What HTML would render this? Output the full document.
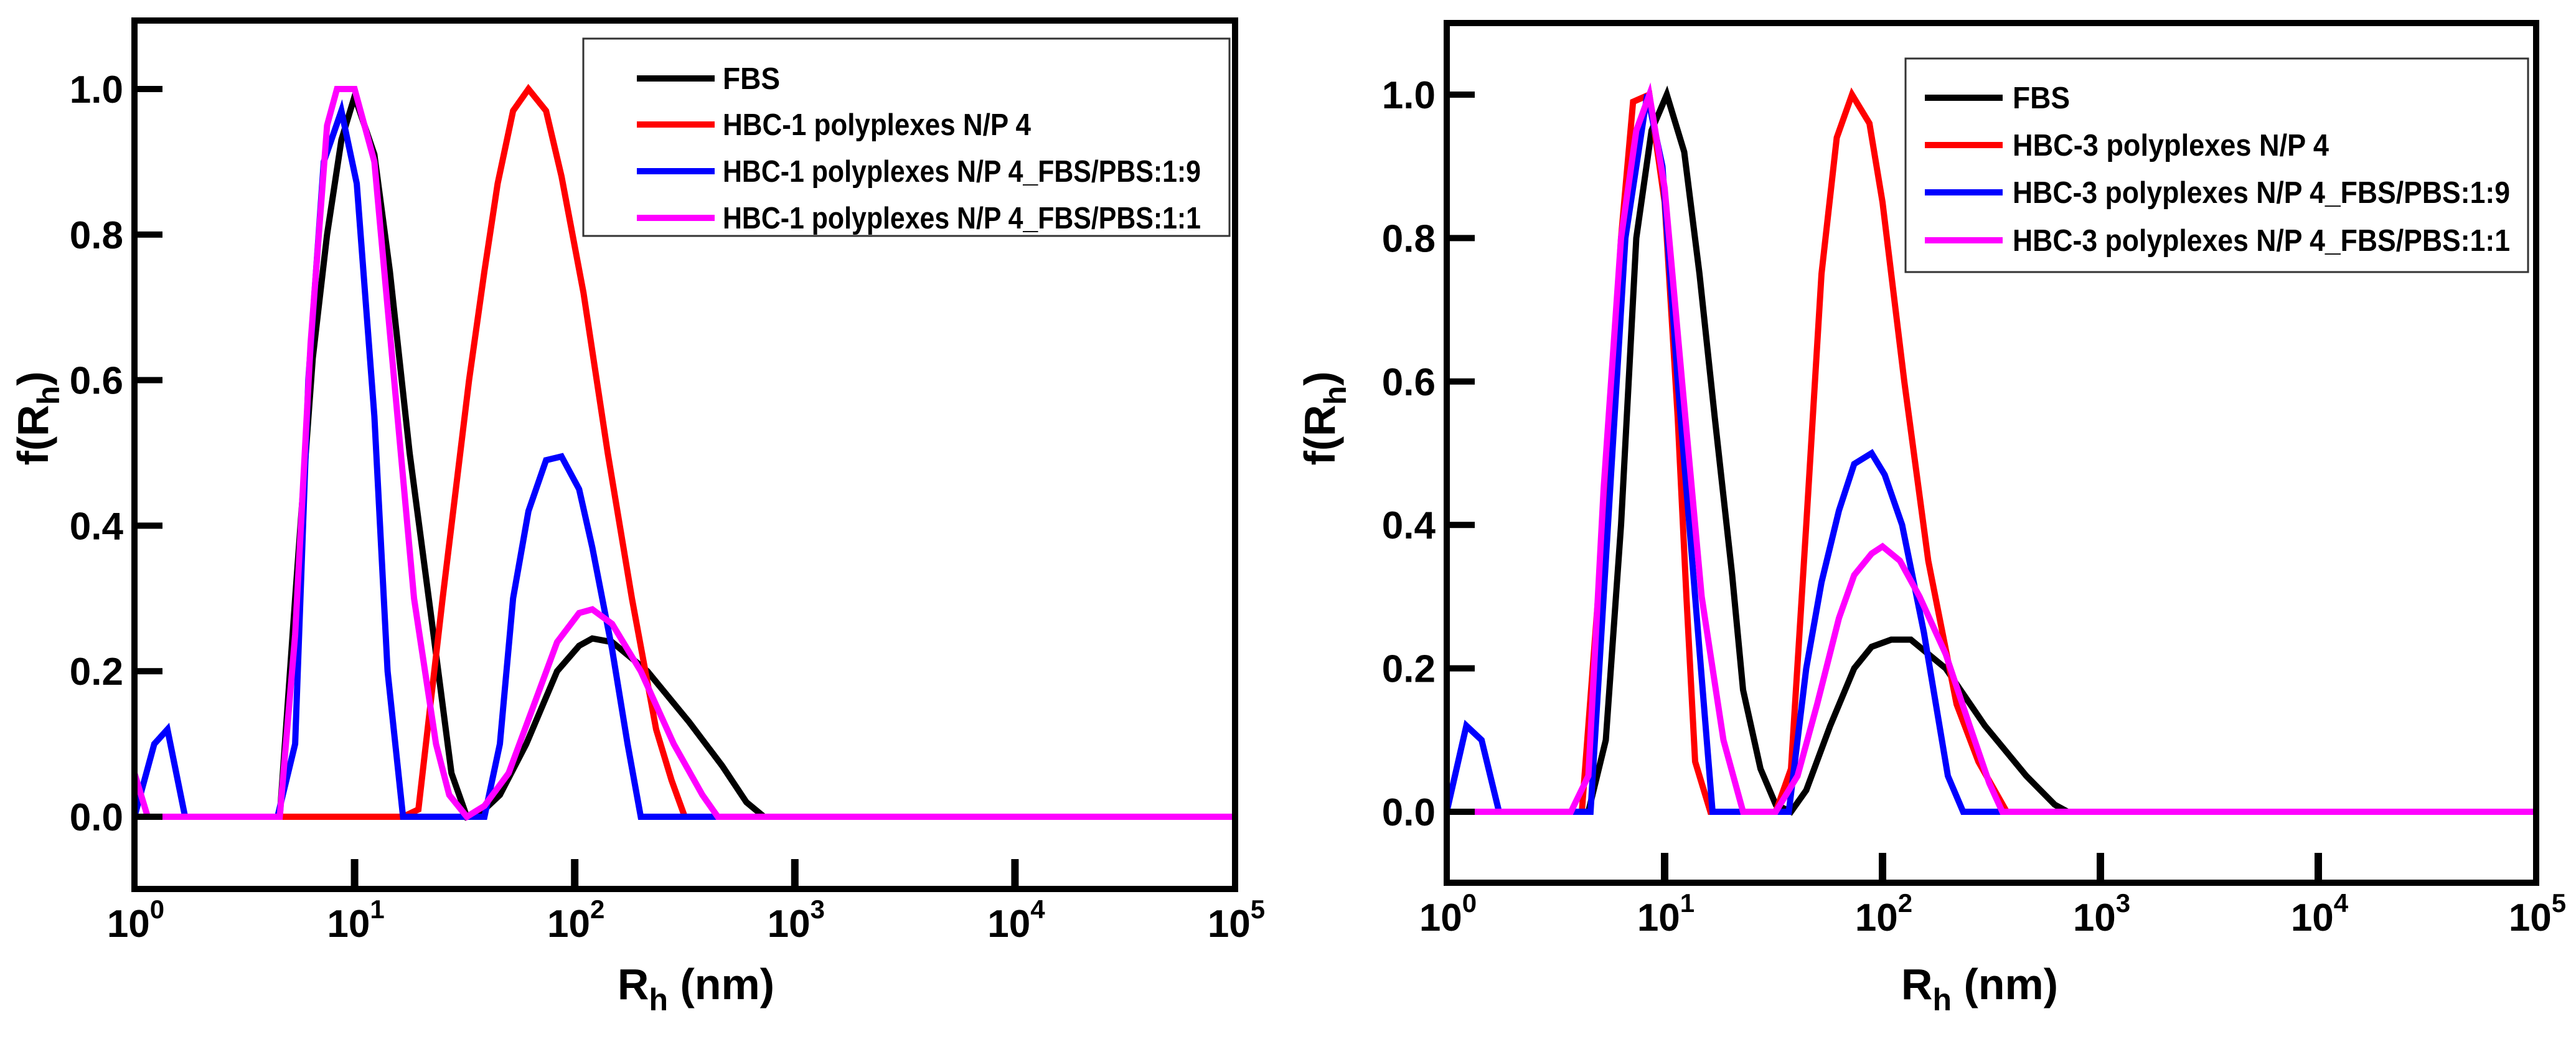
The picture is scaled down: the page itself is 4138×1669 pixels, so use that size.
<!DOCTYPE html>
<html><head><meta charset="utf-8"><style>
html,body{margin:0;padding:0;background:#fff;}
svg{display:block;font-family:"Liberation Sans",Arial,sans-serif;font-weight:bold;}
</style></head><body>
<svg id="fig" width="4138" height="1669" viewBox="0 0 4138 1669"></svg>
<script>
const yTicks = [0, 0.2, 0.4, 0.6, 0.8, 1.0];
const yTickLabels = ["0.0", "0.2", "0.4", "0.6", "0.8", "1.0"];
const xDecades = [0, 1, 2, 3, 4, 5];
const seriesNames1 = ["FBS", "HBC-1 polyplexes N/P 4", "HBC-1 polyplexes N/P 4_FBS/PBS:1:9", "HBC-1 polyplexes N/P 4_FBS/PBS:1:1"];
const seriesNames2 = ["FBS", "HBC-3 polyplexes N/P 4", "HBC-3 polyplexes N/P 4_FBS/PBS:1:9", "HBC-3 polyplexes N/P 4_FBS/PBS:1:1"];
const colors = ["#000000", "#ff0000", "#0000ff", "#ff00ff"];

// panel 1 (log10 Rh, f)
const p1FbsX = [0,0.66,0.73,0.81,0.875,0.94,1.0,1.09,1.16,1.25,1.35,1.44,1.51,1.59,1.66,1.78,1.92,2.02,2.08,2.17,2.33,2.52,2.67,2.78,2.86,5];
const p1FbsY = [0,0,0.3,0.63,0.8,0.93,0.99,0.91,0.75,0.5,0.27,0.06,0,0.01,0.03,0.1,0.2,0.235,0.245,0.24,0.2,0.13,0.07,0.02,0,0];
const p1RedX = [0,1.22,1.29,1.40,1.52,1.59,1.65,1.72,1.79,1.87,1.94,2.04,2.15,2.26,2.37,2.44,2.50,5];
const p1RedY = [0,0,0.01,0.3,0.6,0.75,0.87,0.97,1.0,0.97,0.88,0.72,0.5,0.3,0.12,0.05,0,0];
const p1BlueX = [0,0.09,0.15,0.23,0.65,0.73,0.79,0.86,0.94,1.01,1.09,1.15,1.22,1.59,1.66,1.72,1.79,1.87,1.94,2.02,2.08,2.17,2.24,2.30,5];
const p1BlueY = [0,0.1,0.12,0,0,0.1,0.6,0.9,0.97,0.87,0.55,0.2,0,0,0.1,0.3,0.42,0.49,0.495,0.45,0.37,0.23,0.1,0,0];
const p1MagX = [0,0.06,0.66,0.73,0.80,0.875,0.92,1.0,1.09,1.18,1.27,1.37,1.43,1.51,1.59,1.70,1.81,1.92,2.02,2.08,2.17,2.30,2.45,2.58,2.65,5];
const p1MagY = [0.06,0,0,0.25,0.65,0.95,1.0,1.0,0.9,0.6,0.3,0.1,0.03,0,0.015,0.06,0.15,0.24,0.28,0.285,0.265,0.2,0.1,0.03,0,0];

// panel 2
const p2FbsX = [0,0.65,0.73,0.80,0.87,0.94,1.01,1.09,1.16,1.23,1.31,1.36,1.44,1.51,1.58,1.65,1.76,1.87,1.95,2.04,2.13,2.29,2.47,2.66,2.79,2.85,5];
const p2FbsY = [0,0,0.1,0.4,0.8,0.95,1.0,0.92,0.75,0.55,0.33,0.17,0.06,0.01,0,0.03,0.12,0.2,0.23,0.24,0.24,0.2,0.12,0.05,0.01,0,0];
const p2RedX = [0,0.62,0.72,0.80,0.855,0.93,1.0,1.06,1.10,1.14,1.21,1.51,1.58,1.65,1.72,1.79,1.86,1.94,2.0,2.10,2.21,2.34,2.44,2.57,5];
const p2RedY = [0,0,0.4,0.8,0.99,1.0,0.85,0.55,0.3,0.07,0,0,0.06,0.4,0.75,0.94,1.0,0.96,0.85,0.6,0.35,0.15,0.07,0,0];
const p2BlueX = [0,0.09,0.16,0.24,0.66,0.74,0.82,0.92,0.99,1.06,1.14,1.22,1.57,1.65,1.72,1.80,1.87,1.95,2.01,2.09,2.19,2.30,2.37,5];
const p2BlueY = [0,0.12,0.1,0,0,0.4,0.8,1.0,0.9,0.6,0.3,0,0,0.2,0.32,0.42,0.485,0.5,0.47,0.4,0.25,0.05,0,0];
const p2MagX = [0,0.57,0.65,0.72,0.80,0.87,0.93,1.0,1.08,1.17,1.27,1.36,1.51,1.61,1.70,1.80,1.87,1.95,2.0,2.08,2.17,2.29,2.40,2.49,2.55,5];
const p2MagY = [0,0,0.05,0.45,0.8,0.95,1.0,0.87,0.6,0.3,0.1,0,0,0.05,0.15,0.27,0.33,0.36,0.37,0.35,0.3,0.22,0.12,0.04,0,0];

const NS = "http://www.w3.org/2000/svg";
const svg = document.getElementById("fig");
function mk(tag, attrs, parent) {
  const e = document.createElementNS(NS, tag);
  for (const k in attrs) e.setAttribute(k, attrs[k]);
  (parent || svg).appendChild(e);
  return e;
}

const panels = [
  {L:216,R:1984,T:33,B:1428,y0:1312,y1:143, names:seriesNames1,
   xs:[p1FbsX,p1RedX,p1BlueX,p1MagX], ys:[p1FbsY,p1RedY,p1BlueY,p1MagY],
   leg:{x:937,y:62,w:1038,h:317,lx1:1023,lx2:1148,tx:1161,rows:[126,200,275,350],tw:768},
   ytx:55, xtc:1118, id:"left"},
  {L:2324,R:4074,T:37,B:1418,y0:1304,y1:152, names:seriesNames2,
   xs:[p2FbsX,p2RedX,p2BlueX,p2MagX], ys:[p2FbsY,p2RedY,p2BlueY,p2MagY],
   leg:{x:3061,y:94,w:1000,h:343,lx1:3092,lx2:3217,tx:3233,rows:[157,233,309,386],tw:799},
   ytx:2122, xtc:3180, id:"right"}
];

panels.forEach((p, pi) => {
  const g = mk("g", {});
  
  
  const xS = v => p.L + (v / 5) * (p.R - p.L);
  const yS = v => p.y0 - v * (p.y0 - p.y1);

  const sg = mk("g", {}, g);
  
  
  const cp = mk("clipPath", {id: "clip" + pi}, g);
  mk("rect", {x:p.L, y:p.T, width:p.R-p.L, height:p.B-p.T}, cp);
  sg.setAttribute("clip-path", "url(#clip" + pi + ")");
  for (let s = 0; s < 4; s++) {
    const pts = p.xs[s].map((x, i) => xS(x).toFixed(1) + "," + yS(p.ys[s][i]).toFixed(1)).join(" ");
    const pl = mk("polyline", {points: pts, fill: "none", stroke: colors[s], "stroke-width": 10, "stroke-linejoin": "miter"}, sg);
    
    
  }

  yTicks.forEach((t, i) => {
    const y = yS(t);
    const tk = mk("rect", {x:p.L, y:y-5, width:45, height:10, fill:"#000"}, g);
    
    
    const lb = mk("text", {x:p.L-18, y:y+22, "font-size":62, "text-anchor":"end", fill:"#000"}, g);
    lb.textContent = yTickLabels[i];
    
    
  });
  xDecades.forEach(d => {
    const x = xS(d);
    if (d > 0 && d < 5) {
      const tk = mk("rect", {x:x-6, y:p.B-48, width:12, height:48, fill:"#000"}, g);
      
      
    }
    const lb = mk("text", {x:x+2, y:p.B+77, "font-size":62, "text-anchor":"middle", fill:"#000"}, g);
    
    
    const t1 = mk("tspan", {}, lb); t1.textContent = "10";
    const t2 = mk("tspan", {dy:-30, "font-size":42}, lb); t2.textContent = String(d);
  });

  const fr = mk("rect", {x:p.L, y:p.T, width:p.R-p.L, height:p.B-p.T, fill:"none", stroke:"#000", "stroke-width":10}, g);
  
  

  const lg = mk("g", {}, g);
  
  
  mk("rect", {x:p.leg.x, y:p.leg.y, width:p.leg.w, height:p.leg.h, fill:"#fff", stroke:"#333", "stroke-width":3}, lg);
  for (let s = 0; s < 4; s++) {
    const ry = p.leg.rows[s];
    const en = mk("g", {}, lg);
    
    
    mk("line", {x1:p.leg.lx1, x2:p.leg.lx2, y1:ry, y2:ry, stroke:colors[s], "stroke-width":10}, en);
    const t = mk("text", {x:p.leg.tx, y:ry+17, "font-size":49, fill:"#000"}, en);
    t.textContent = p.names[s];
    if (s >= 2) { t.setAttribute("textLength", p.leg.tw); }
    else { t.setAttribute("textLength", s === 0 ? 92 : (pi === 0 ? 495 : 508)); }
    t.setAttribute("lengthAdjust", "spacingAndGlyphs");
  }

  const yt = mk("text", {x:0, y:0, "font-size":70, "text-anchor":"middle", fill:"#000", transform:"translate(" + (p.ytx + 22) + ",672) rotate(-90)"}, g);
  
  
  const a = mk("tspan", {}, yt); a.textContent = "f(R";
  const b = mk("tspan", {dy:18, "font-size":50}, yt); b.textContent = "h";
  const c = mk("tspan", {dy:-18}, yt); c.textContent = ")";

  const xt = mk("text", {x:p.xtc, y:1605, "font-size":70, "text-anchor":"middle", fill:"#000"}, g);
  
  
  const d1 = mk("tspan", {}, xt); d1.textContent = "R";
  const d2 = mk("tspan", {dy:18, "font-size":50}, xt); d2.textContent = "h";
  const d3 = mk("tspan", {dy:-18}, xt); d3.textContent = " (nm)";
});
</script>
</body></html>
